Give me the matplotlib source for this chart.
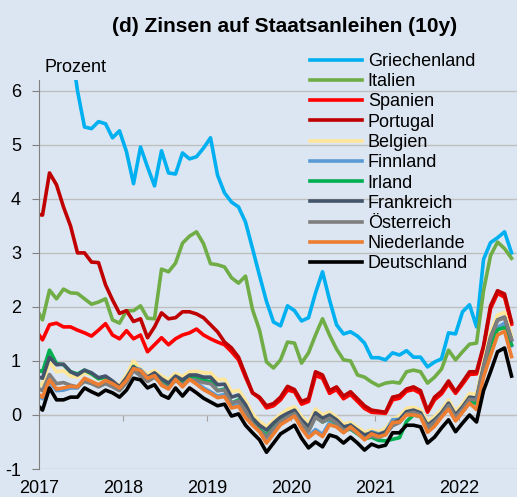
import matplotlib
matplotlib.use("Agg")
import matplotlib.pyplot as plt
import numpy as np
import pandas as pd

plt.rcParams['font.family'] = ['Liberation Sans', 'DejaVu Sans']

# monthly values, Dec 2016 .. Aug 2022
months = pd.period_range("2016-12", "2022-08", freq="M")

griechenland = [7.0, 7.2, 7.5, 7.2, 7.0, 6.9, 6.0, 5.33, 5.30, 5.43, 5.39, 5.13, 5.26, 4.87, 4.28, 4.96, 4.59, 4.24,
                4.89, 4.48, 4.46, 4.85, 4.74, 4.78, 4.94, 5.13, 4.44, 4.11, 3.94, 3.85, 3.57, 3.08, 2.58, 2.10, 1.72,
                1.65, 2.02, 1.93, 1.74, 1.80, 2.26, 2.65, 2.13, 1.67, 1.50, 1.54, 1.46, 1.33, 1.06, 1.06, 1.02, 1.15,
                1.11, 1.19, 1.07, 1.07, 0.89, 0.98, 1.04, 1.52, 1.50, 1.91, 2.04, 1.63, 2.88, 3.19, 3.28, 3.39, 3.0]
italien = [2.0, 1.76, 2.31, 2.15, 2.33, 2.26, 2.25, 2.15, 2.05, 2.09, 2.15, 1.76, 1.70, 1.93, 1.93, 2.02, 1.79, 1.78,
           2.70, 2.65, 2.81, 3.18, 3.31, 3.39, 3.17, 2.80, 2.78, 2.74, 2.54, 2.44, 2.57, 1.95, 1.57, 0.98, 0.87,
           1.02, 1.35, 1.33, 0.96, 1.15, 1.48, 1.78, 1.48, 1.22, 1.02, 1.00, 0.74, 0.70, 0.61, 0.54, 0.59, 0.61,
           0.59, 0.80, 0.83, 0.80, 0.59, 0.70, 0.85, 1.20, 1.02, 1.17, 1.31, 1.33, 2.30, 2.95, 3.20, 3.08, 2.90]
spanien = [1.58, 1.39, 1.67, 1.70, 1.63, 1.63, 1.57, 1.52, 1.46, 1.57, 1.69, 1.48, 1.41, 1.56, 1.41, 1.48, 1.17, 1.30,
           1.43, 1.30, 1.41, 1.48, 1.52, 1.59, 1.48, 1.41, 1.35, 1.30, 1.17, 1.02, 0.70, 0.41, 0.31, 0.13, 0.17,
           0.28, 0.46, 0.43, 0.20, 0.25, 0.73, 0.68, 0.40, 0.47, 0.30, 0.38, 0.25, 0.12, 0.05, 0.04, 0.03, 0.28,
           0.31, 0.44, 0.47, 0.40, 0.05, 0.28, 0.39, 0.58, 0.40, 0.57, 0.75, 0.76, 1.24, 1.97, 2.25, 2.18, 1.68]
portugal = [3.72, 3.70, 4.48, 4.26, 3.85, 3.50, 3.00, 3.00, 2.83, 2.82, 2.41, 2.13, 1.88, 1.93, 1.73, 1.78, 1.43, 1.63,
            1.89, 1.78, 1.80, 1.91, 1.91, 1.87, 1.80, 1.67, 1.54, 1.35, 1.24, 1.07, 0.74, 0.41, 0.33, 0.17, 0.21,
            0.33, 0.53, 0.47, 0.25, 0.30, 0.80, 0.74, 0.45, 0.52, 0.35, 0.43, 0.30, 0.17, 0.09, 0.07, 0.05, 0.33,
            0.36, 0.48, 0.52, 0.45, 0.08, 0.33, 0.44, 0.63, 0.43, 0.61, 0.80, 0.80, 1.28, 2.02, 2.30, 2.24, 1.72]
belgien = [0.60, 0.55, 0.98, 0.80, 0.82, 0.72, 0.70, 0.78, 0.75, 0.66, 0.70, 0.62, 0.55, 0.74, 1.00, 0.85, 0.76, 0.82,
           0.72, 0.65, 0.77, 0.71, 0.80, 0.81, 0.78, 0.78, 0.65, 0.66, 0.43, 0.46, 0.27, 0.02, -0.12, -0.22, -0.10,
           0.01, 0.10, 0.15, -0.03, -0.16, 0.11, 0.00, 0.05, -0.04, -0.17, -0.14, -0.23, -0.32, -0.28, -0.31, -0.25,
           -0.08, -0.02, 0.12, 0.14, 0.09, -0.13, -0.03, 0.10, 0.28, 0.06, 0.21, 0.40, 0.38, 0.98, 1.52, 1.85, 1.90, 1.47]
finnland = [0.40, 0.30, 0.62, 0.45, 0.46, 0.50, 0.50, 0.66, 0.60, 0.54, 0.63, 0.58, 0.52, 0.66, 0.88, 0.84, 0.70, 0.75,
            0.56, 0.50, 0.69, 0.54, 0.69, 0.60, 0.50, 0.43, 0.35, 0.38, 0.16, 0.20, -0.01, -0.15, -0.26, -0.48, -0.31,
            -0.14, -0.06, 0.02, -0.21, -0.39, -0.27, -0.36, -0.14, -0.18, -0.29, -0.18, -0.29, -0.42, -0.31, -0.35,
            -0.32, -0.09, -0.08, 0.06, 0.06, 0.03, -0.26, -0.15, 0.02, 0.18, -0.04, 0.12, 0.30, 0.20, 0.85, 1.25,
            1.62, 1.70, 1.28]
irland = [0.85, 0.80, 1.20, 0.95, 0.93, 0.80, 0.76, 0.83, 0.76, 0.67, 0.70, 0.60, 0.50, 0.67, 0.90, 0.76, 0.68, 0.76,
          0.64, 0.56, 0.70, 0.62, 0.72, 0.70, 0.64, 0.62, 0.45, 0.48, 0.22, 0.28, 0.10, -0.14, -0.27, -0.37, -0.21,
          -0.10, -0.04, 0.03, -0.15, -0.29, -0.03, -0.13, -0.07, -0.16, -0.29, -0.26, -0.35, -0.44, -0.41, -0.47,
          -0.48, -0.45, -0.42, -0.12, 0.00, -0.03, -0.27, -0.16, -0.02, 0.14, -0.07, 0.07, 0.24, 0.22, 0.80, 1.30,
          1.58, 1.62, 1.30]
frankreich = [0.72, 0.68, 1.07, 0.93, 0.94, 0.80, 0.74, 0.83, 0.78, 0.69, 0.72, 0.63, 0.52, 0.69, 0.89, 0.78, 0.70,
              0.78, 0.67, 0.59, 0.72, 0.65, 0.74, 0.74, 0.70, 0.70, 0.56, 0.57, 0.33, 0.37, 0.19, -0.06, -0.19, -0.28,
              -0.15, -0.04, 0.03, 0.09, -0.09, -0.22, 0.04, -0.06, 0.00, -0.09, -0.22, -0.19, -0.28, -0.37, -0.33,
              -0.37, -0.31, -0.15, -0.09, 0.06, 0.09, 0.04, -0.19, -0.09, 0.04, 0.22, 0.00, 0.15, 0.33, 0.31, 0.90,
              1.44, 1.76, 1.81, 1.39]
oesterreich = [0.52, 0.45, 0.75, 0.58, 0.60, 0.55, 0.52, 0.62, 0.58, 0.52, 0.58, 0.52, 0.45, 0.60, 0.82, 0.72, 0.62,
               0.70, 0.58, 0.50, 0.64, 0.56, 0.65, 0.64, 0.60, 0.58, 0.45, 0.46, 0.22, 0.26, 0.08, -0.16, -0.29, -0.40,
               -0.25, -0.12, -0.04, 0.03, -0.16, -0.30, -0.04, -0.13, -0.06, -0.15, -0.28, -0.25, -0.34, -0.43, -0.39,
               -0.42, -0.36, -0.20, -0.14, 0.02, 0.05, 0.00, -0.23, -0.13, 0.00, 0.18, -0.04, 0.11, 0.29, 0.28, 0.88,
               1.42, 1.75, 1.80, 1.40]
niederlande = [0.42, 0.33, 0.65, 0.48, 0.50, 0.53, 0.52, 0.68, 0.62, 0.56, 0.64, 0.58, 0.50, 0.64, 0.86, 0.82, 0.68,
               0.73, 0.55, 0.48, 0.66, 0.52, 0.66, 0.57, 0.47, 0.40, 0.32, 0.34, 0.13, 0.16, -0.05, -0.19, -0.31, -0.52,
               -0.35, -0.18, -0.10, -0.02, -0.25, -0.42, -0.31, -0.40, -0.18, -0.22, -0.33, -0.22, -0.33, -0.46, -0.35,
               -0.40, -0.37, -0.14, -0.13, 0.00, 0.00, -0.03, -0.32, -0.21, -0.04, 0.11, -0.11, 0.05, 0.22, 0.10, 0.70,
               1.10, 1.48, 1.55, 1.08]
deutschland = [0.22, 0.09, 0.50, 0.28, 0.28, 0.33, 0.33, 0.50, 0.43, 0.37, 0.46, 0.41, 0.33, 0.46, 0.68, 0.65, 0.50,
               0.56, 0.37, 0.31, 0.50, 0.35, 0.50, 0.41, 0.31, 0.24, 0.17, 0.20, -0.02, 0.02, -0.19, -0.33, -0.46, -0.69,
               -0.52, -0.35, -0.27, -0.19, -0.43, -0.61, -0.50, -0.59, -0.37, -0.41, -0.52, -0.41, -0.52, -0.65, -0.54,
               -0.59, -0.56, -0.33, -0.33, -0.19, -0.19, -0.22, -0.52, -0.41, -0.24, -0.09, -0.31, -0.15, 0.00, -0.13,
               0.45, 0.80, 1.17, 1.24, 0.72]

names = ["Griechenland", "Italien", "Spanien", "Portugal", "Belgien", "Finnland", "Irland",
         "Frankreich", "Österreich", "Niederlande", "Deutschland"]
series = [griechenland, italien, spanien, portugal, belgien, finnland, irland,
          frankreich, oesterreich, niederlande, deutschland]
colors = ["#00B0F0", "#70AD47", "#FF0000", "#C00000", "#FFE699", "#5B9BD5", "#00B050",
          "#44546A", "#7F7F7F", "#ED7D31", "#000000"]

# mid-month position on a decimal year axis
x = months.year + (months.month - 0.5) / 12

bg = "#DCE6F2"
fig = plt.figure(figsize=(5.17, 4.97), dpi=100, facecolor=bg)
ax = fig.add_axes([39 / 517, 1 - 469 / 497, 1 - 39 / 517, (469 - 80) / 497])
ax.set_facecolor(bg)

for name, vals, col in zip(names, series, colors):
    ax.plot(x, vals, color=col, lw=2.6, label=name, solid_joinstyle="round")

ymin, ymax = -1, 6.2
ax.set_ylim(ymin, ymax)
ax.set_xlim(2017, 2022.69)

ax.set_yticks(range(-1, 7))
ax.set_yticklabels([str(v) for v in range(-1, 7)])
ax.grid(axis="y", color="#BFBFBF", lw=1)
ax.tick_params(axis="y", labelsize=13, length=5, color="#808080", pad=8)

years = list(range(2017, 2023))
ax.set_xticks(years)
ax.set_xticklabels([str(y) for y in years])
ax.tick_params(axis="x", labelsize=13, length=0, pad=8)

for s in ["top", "right", "bottom"]:
    ax.spines[s].set_visible(False)
ax.spines["left"].set_color("#808080")

# zero line carries the year tick marks
sec = ax.secondary_xaxis((0 - ymin) / (ymax - ymin))
sec.set_xticks(years)
sec.set_xticklabels([])
sec.tick_params(length=4, color="#A0A0A0", direction="out")
sec.spines["bottom"].set_color("#BFBFBF")

fig.text(285 / 517, 1 - 27 / 497, "(d) Zinsen auf Staatsanleihen (10y)",
         ha="center", va="center", fontsize=15, fontweight="bold")
fig.text(44 / 517, 1 - 68 / 497, "Prozent", ha="left", va="center", fontsize=13)

ax.legend(loc="upper left", bbox_to_anchor=(310 / 517, 1 - 53 / 497), bbox_transform=fig.transFigure,
          frameon=False, fontsize=13, handlelength=2.9, handletextpad=0.3, labelspacing=0.18,
          borderpad=0, borderaxespad=0)

fig.savefig("out.png", dpi=100, facecolor=bg)
